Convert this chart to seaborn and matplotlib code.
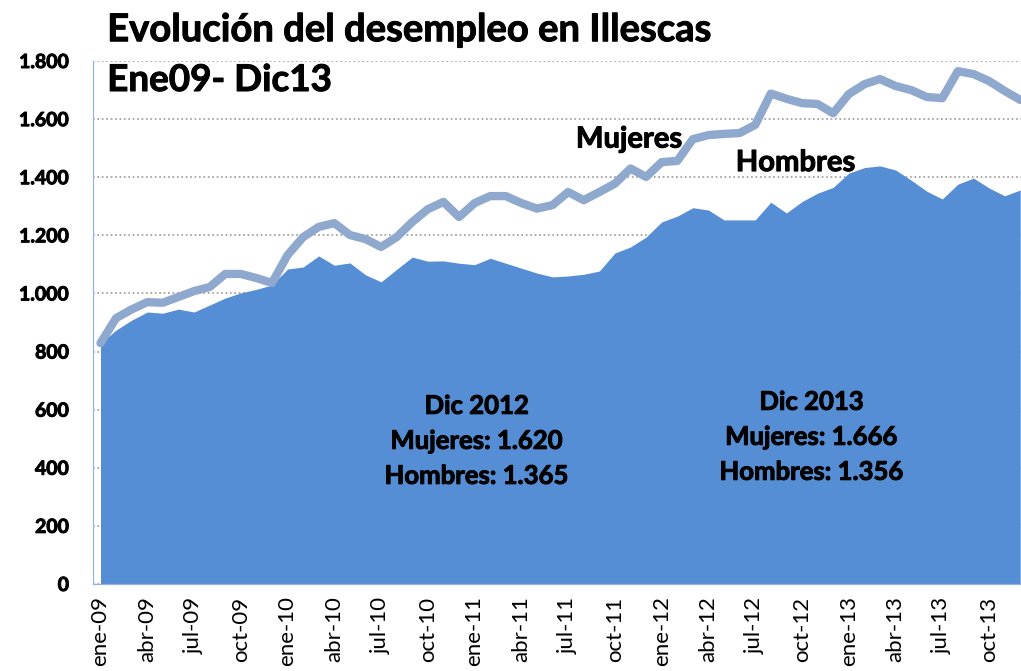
import numpy as np
import pandas as pd
import matplotlib
matplotlib.use("Agg")
import matplotlib.pyplot as plt
import matplotlib.patheffects as pe
from matplotlib.ticker import FuncFormatter
import seaborn as sns

# monthly registered unemployment, Illescas, ene-09 .. dic-13
meses = ["ene", "feb", "mar", "abr", "may", "jun", "jul", "ago", "sep", "oct", "nov", "dic"]
anios = ["09", "10", "11", "12", "13"]

mujeres = [829, 915, 945, 970, 968, 988, 1008, 1022, 1067, 1067, 1053, 1036,
           1132, 1194, 1229, 1242, 1201, 1187, 1160, 1194, 1246, 1290, 1315, 1263,
           1311, 1335, 1335, 1311, 1292, 1304, 1349, 1321, 1349, 1378, 1430, 1401,
           1452, 1456, 1531, 1545, 1549, 1552, 1580, 1688, 1670, 1655, 1652, 1620,
           1686, 1720, 1738, 1714, 1700, 1676, 1672, 1765, 1755, 1731, 1697, 1666]

hombres = [828, 874, 908, 936, 932, 946, 936, 960, 984, 1002, 1014, 1029,
           1084, 1091, 1129, 1097, 1105, 1064, 1040, 1083, 1125, 1111, 1112, 1104,
           1099, 1121, 1104, 1087, 1070, 1057, 1060, 1066, 1077, 1139, 1160, 1194,
           1246, 1266, 1295, 1287, 1253, 1253, 1253, 1314, 1277, 1316, 1345, 1365,
           1414, 1433, 1439, 1425, 1390, 1352, 1325, 1376, 1397, 1363, 1336, 1356]

etiquetas = [f"{m}-{a}" for a in anios for m in meses]

df = pd.DataFrame({"idx": np.arange(len(etiquetas)), "Mujeres": mujeres, "Hombres": hombres})

sns.set_style("white")
plt.rcParams["font.family"] = ["Lato", "DejaVu Sans"]
plt.rcParams["text.color"] = "black"
plt.rcParams["xtick.color"] = "black"
plt.rcParams["ytick.color"] = "black"

# slight stroke to get the heavy Calibri-like look
negrita = [pe.withStroke(linewidth=0.7, foreground="black")]

fig = plt.figure(figsize=(10.21, 6.71), dpi=100)
ax = fig.add_axes([0.0908, 0.1297, 0.9092, 0.7794])

# Hombres as filled area, Mujeres as thick line
ax.fill_between(df["idx"], 0, df["Hombres"], color="#558ED5", linewidth=0, zorder=2)
sns.lineplot(data=df, x="idx", y="Mujeres", ax=ax, color="#8EA8CE", linewidth=6,
             zorder=3, solid_joinstyle="round", solid_capstyle="round")

ax.set_xlim(-0.5, 59.05)
ax.set_ylim(0, 1800)
ax.set_xlabel("")
ax.set_ylabel("")

# gridlines
ax.set_yticks(np.arange(0, 1801, 200))
ax.yaxis.grid(True, linestyle=":", color="#9A9A9A", linewidth=1.2, zorder=1)
ax.set_axisbelow(True)
ax.yaxis.set_major_formatter(FuncFormatter(lambda v, p: f"{int(v):,}".replace(",", ".")))
ax.tick_params(axis="y", length=5, color="#8EB4E3", labelsize=14, pad=12)
for lab in ax.get_yticklabels():
    lab.set_fontweight("bold")
    lab.set_path_effects(negrita)

# x ticks between categories, labels on categories
pos = np.arange(0, len(etiquetas), 3)
ax.set_xticks(pos - 0.5)
ax.set_xticklabels([])
ax.set_xticks(pos, minor=True)
ax.set_xticklabels([etiquetas[i] for i in pos], minor=True, rotation=90, fontsize=16)
ax.tick_params(axis="x", which="major", length=6, color="#A6A6A6", direction="out")
ax.tick_params(axis="x", which="minor", length=0, pad=9)

for s in ["top", "right"]:
    ax.spines[s].set_visible(False)
ax.spines["left"].set_color("#8EB4E3")
ax.spines["bottom"].set_color("#8EB4E3")

# titles
fig.text(0.105, 0.955, "Evolución del desempleo en Illescas", fontsize=27.5, fontweight="bold",
         va="center", ha="left", path_effects=negrita)
fig.text(0.105, 0.88, "Ene09- Dic13", fontsize=26.5, fontweight="bold", va="center", ha="left",
         path_effects=negrita)

# series labels
fig.text(0.616, 0.792, "Mujeres", fontsize=21, fontweight="bold",
         va="center", ha="center", path_effects=negrita)
fig.text(0.779, 0.757, "Hombres", fontsize=21, fontweight="bold",
         va="center", ha="center", path_effects=negrita)

# december boxes
fig.text(0.467, 0.343, "Dic 2012\nMujeres: 1.620\nHombres: 1.365", fontsize=18.5,
         fontweight="bold", ha="center", va="center", linespacing=1.55, path_effects=negrita)
fig.text(0.795, 0.349, "Dic 2013\nMujeres: 1.666\nHombres: 1.356", fontsize=18.5,
         fontweight="bold", ha="center", va="center", linespacing=1.55, path_effects=negrita)

fig.savefig("out.png", dpi=100)
